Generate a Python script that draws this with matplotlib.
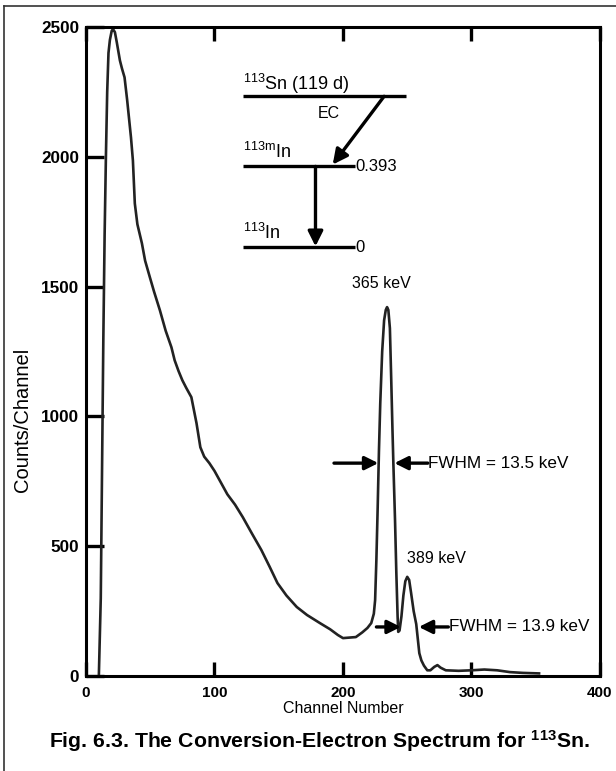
import numpy as np
import matplotlib.pyplot as plt
from matplotlib.lines import Line2D

plt.rcParams['font.family'] = ['Liberation Sans', 'DejaVu Sans']
plt.rcParams['mathtext.fontset'] = 'custom'
plt.rcParams['mathtext.rm'] = 'Liberation Sans'
plt.rcParams['mathtext.bf'] = 'Liberation Sans:bold'
plt.rcParams['mathtext.default'] = 'regular'

# spectrum (channel, counts)
channel = [10, 11.5, 12.5, 13.5, 14.5, 15.5, 16.5, 17.5, 18.6, 20, 21, 22.5, 24,
           26.4, 28, 30, 32, 35, 36.5, 38, 40, 43.5, 46, 49.7, 53, 57.5, 62,
           66.5, 69, 72, 75, 78, 82, 86, 89, 92, 96, 100, 104, 110, 116, 122,
           129, 136.5, 143, 149, 156, 164, 172, 182, 190, 196, 200, 205, 210,
           215, 219, 222, 224, 225, 226, 227, 228, 229, 230.5, 232, 233.3,
           234.3, 235.3, 236.5, 237.5, 238.5, 239.2, 240.5, 241.5, 242.5, 243,
           244, 245.5, 247, 248.5, 250, 251.5, 253, 255, 257, 258.5, 259.4,
           261, 263, 265.6, 268, 271, 273.5, 276, 280, 290, 300, 310, 320,
           330, 340, 352.6]
counts = [0, 300, 800, 1300, 1700, 2000, 2250, 2400, 2450, 2485, 2492, 2480, 2440,
          2371, 2340, 2306, 2220, 2075, 1986, 1820, 1740, 1667, 1600, 1536, 1480,
          1409, 1330, 1266, 1216, 1175, 1139, 1110, 1074, 974, 881, 845, 820,
          790, 754, 700, 660, 612, 550, 485, 420, 358, 310, 266, 235, 204, 180,
          158, 146, 148, 150, 168, 185, 204, 240, 292, 450, 650, 870, 1050,
          1250, 1370, 1410, 1421, 1410, 1340, 1150, 950, 820, 600, 400, 230,
          170, 175, 230, 310, 365, 382, 370, 320, 250, 200, 130, 88, 60, 40,
          22, 22, 35, 42, 32, 22, 20, 22, 25, 22, 15, 12, 10]

xticks = [0, 100, 200, 300, 400]
yticks = [0, 500, 1000, 1500, 2000, 2500]

# decay scheme levels: (y, x start, x end)
levels = [(2233, 122, 249), (1963, 122, 209), (1651, 122, 209)]

fig = plt.figure(figsize=(6.16, 7.71), dpi=100)
ax = fig.add_axes([0.1396, 0.1232, 0.8344, 0.8418])

ax.plot(channel, counts, color='#222222', lw=1.9, solid_joinstyle='round')

ax.set_xlim(0, 400)
ax.set_ylim(0, 2500)
ax.set_xticks(xticks)
ax.set_yticks(yticks)
ax.set_xticklabels([str(t) for t in xticks], fontsize=11, fontweight='bold')
ax.set_yticklabels([str(t) for t in yticks], fontsize=12.3, fontweight='bold')
ax.tick_params(axis='x', direction='in', length=10, width=2.4, top=True, pad=7)
ax.tick_params(axis='y', direction='in', length=13, width=2.4, pad=5)
for s in ax.spines.values():
    s.set_linewidth(2.2)
ax.set_xlabel('Channel Number', fontsize=11.5, labelpad=1)
ax.set_ylabel('Counts/Channel', fontsize=14.5, labelpad=10)
ax.yaxis.set_label_coords(-0.105, 0.394)

# decay scheme
for y, x0, x1 in levels:
    ax.plot([x0, x1], [y, y], color='black', lw=2.4, solid_capstyle='butt')
ax.text(122, 2256, r'$^{113}$Sn (119 d)', fontsize=13, va='baseline')
ax.text(122, 1994, r'$^{113m}$In', fontsize=13, va='baseline')
ax.text(122, 1684, r'$^{113}$In', fontsize=13, va='baseline')
ax.text(189, 2167, 'EC', fontsize=11.5, ha='center', va='center')
ax.text(210, 1963, '0.393', fontsize=12, va='center')
ax.text(210, 1651, '0', fontsize=12, va='center')

head = dict(arrowstyle='-|>,head_length=0.9,head_width=0.45', color='black', lw=2.4,
            shrinkA=0, shrinkB=0)
ax.annotate('', xy=(192, 1970), xytext=(232, 2233), arrowprops=head)
ax.annotate('', xy=(178.6, 1655), xytext=(178.6, 1963), arrowprops=head)

# FWHM markers
small = dict(arrowstyle='-|>,head_length=0.8,head_width=0.4', color='black', lw=2.4,
             shrinkA=0, shrinkB=0)
ax.annotate('', xy=(227.5, 820), xytext=(193, 820), arrowprops=small)
ax.annotate('', xy=(240, 820), xytext=(266, 820), arrowprops=small)
ax.text(266, 820, 'FWHM = 13.5 keV', fontsize=12.3, va='center')
ax.annotate('', xy=(245, 189), xytext=(226, 189), arrowprops=small)
ax.annotate('', xy=(259, 189), xytext=(282, 189), arrowprops=small)
ax.text(282.5, 189, 'FWHM = 13.9 keV', fontsize=12.3, va='center')

ax.text(230, 1513, '365 keV', fontsize=11.5, ha='center', va='center')
ax.text(272.6, 454, '389 keV', fontsize=11.5, ha='center', va='center')

fig.text(0.518, 0.039, r'Fig. 6.3. The Conversion-Electron Spectrum for $^{113}$Sn.',
         fontsize=15.3, fontweight='bold', ha='center', va='center')

# page frame
fig.add_artist(Line2D([0.0065, 0.0065], [0, 0.992], color='#333333', lw=1.2))
fig.add_artist(Line2D([0.0065, 1], [0.992, 0.992], color='#333333', lw=1.2))

plt.savefig('out.png', dpi=100)
